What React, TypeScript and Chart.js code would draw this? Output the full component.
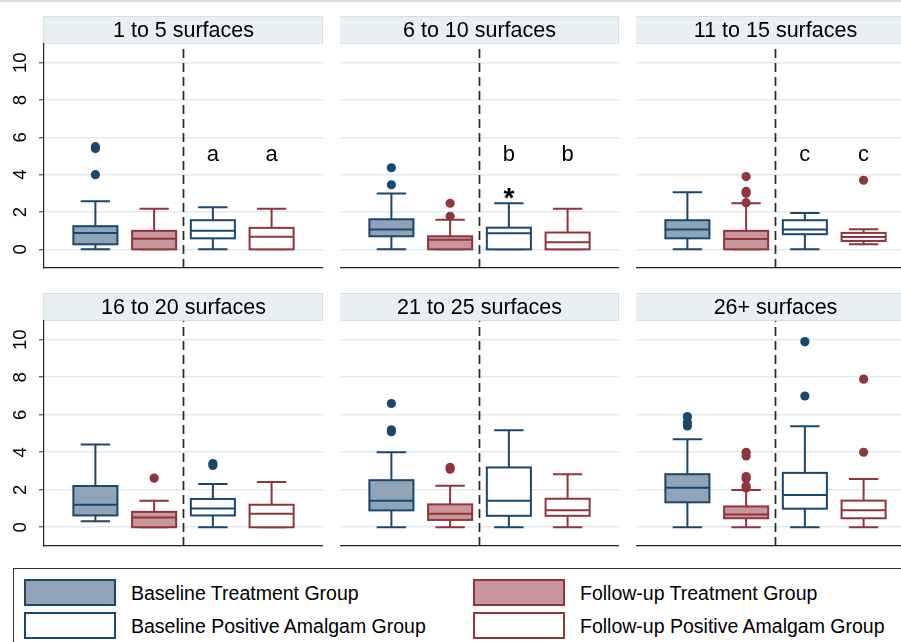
import React, { useEffect, useRef } from 'react';
import { Chart, registerables } from 'chart.js';

Chart.register(...registerables);

// ---------- data ----------
const panelTitles = [
  '1 to 5 surfaces',
  '6 to 10 surfaces',
  '11 to 15 surfaces',
  '16 to 20 surfaces',
  '21 to 25 surfaces',
  '26+ surfaces',
];

const groupLabels = [
  'Baseline Treatment Group',
  'Follow-up Treatment Group',
  'Baseline Positive Amalgam Group',
  'Follow-up Positive Amalgam Group',
];

const groupX = [1, 2, 3, 4];
const dividerX = 2.5;
const yTicks = [0, 2, 4, 6, 8, 10];

// per panel: [lower whisker, Q1, median, Q3, upper whisker]
const baselineTreatment = [
  [0, 0.27, 0.88, 1.24, 2.58],
  [0, 0.7, 1.06, 1.61, 2.99],
  [0, 0.59, 1.06, 1.56, 3.06],
  [0.32, 0.63, 1.2, 2.2, 4.41],
  [0, 0.9, 1.42, 2.51, 4.0],
  [0, 1.33, 2.11, 2.83, 4.7],
];
const followupTreatment = [
  [0, 0, 0.57, 0.99, 2.17],
  [0, 0, 0.52, 0.7, 1.58],
  [0, 0, 0.56, 0.99, 2.47],
  [0, 0, 0.52, 0.82, 1.42],
  [0, 0.39, 0.72, 1.22, 2.22],
  [0, 0.48, 0.68, 1.11, 1.99],
];
const baselineAmalgam = [
  [0, 0.59, 0.99, 1.56, 2.26],
  [0, 0, 0.86, 1.16, 2.47],
  [0, 0.81, 1.06, 1.56, 1.95],
  [0, 0.63, 1.0, 1.51, 2.31],
  [0, 0.61, 1.42, 3.19, 5.18],
  [0, 0.99, 1.72, 2.9, 5.39],
];
const followupAmalgam = [
  [0, 0, 0.68, 1.15, 2.17],
  [0, 0, 0.38, 0.9, 2.17],
  [0.27, 0.45, 0.66, 0.88, 1.08],
  [0, 0, 0.72, 1.2, 2.42],
  [0, 0.61, 0.91, 1.52, 2.83],
  [0, 0.48, 0.91, 1.42, 2.58],
];

// outliers per panel
const baselineTreatmentOut = [[4.0, 5.4, 5.5], [3.46, 4.37], [], [], [5.1, 5.2, 6.6], [5.4, 5.6, 5.9]];
const followupTreatmentOut = [[], [1.77, 2.47], [2.5, 3.0, 3.1, 3.9], [2.62], [3.1, 3.2], [2.1, 2.2, 2.6, 2.7, 3.8, 4.0]];
const baselineAmalgamOut = [[], [], [], [3.3, 3.4], [], [7.0, 9.9]];
const followupAmalgamOut = [[], [], [3.7], [], [], [4.0, 7.9]];

const significance = ['a', 'b', 'c', '', '', ''];
const significanceY = 4.75;
const asteriskPanel = ['', '*', '', '', '', ''];
const asteriskY = 2.25;

// ---------- styles ----------
const NAVY = '#1a476f';
const MAROON = '#90353b';
const NAVY_FILL = '#90a4b8';
const MAROON_FILL = '#c9979b';
const FONT = '"Liberation Sans", Arial, sans-serif';

const groupStats = [baselineTreatment, followupTreatment, baselineAmalgam, followupAmalgam];
const groupOut = [baselineTreatmentOut, followupTreatmentOut, baselineAmalgamOut, followupAmalgamOut];
const groupLine = [NAVY, MAROON, NAVY, MAROON];
const groupFill = [NAVY_FILL, MAROON_FILL, '#ffffff', '#ffffff'];

const colLeft = [44, 340, 636];
const rowTop = [16, 293];
const plotW = 279;
const headerH = 28;
const plotH = [224, 225];
const BOX_HALF = 0.375;
const CAP_HALF = 0.25;

function Panel({ index }: { index: number }) {
  const ref = useRef<HTMLCanvasElement | null>(null);
  const col = index % 3;
  const row = Math.floor(index / 3);
  const leftPad = col === 0 ? 44 : 0;
  const cw = leftPad + plotW;
  const ch = headerH + plotH[row] + 2;
  const left = col === 0 ? 0 : colLeft[col];
  const top = rowTop[row];

  useEffect(() => {
    if (!ref.current) return;

    const headerPlugin = {
      id: 'header',
      beforeDraw(chart: any) {
        const { ctx, chartArea } = chart;
        ctx.save();
        ctx.fillStyle = '#e8f0f3';
        ctx.strokeStyle = '#d3e0e5';
        ctx.lineWidth = 1;
        ctx.fillRect(chartArea.left - 1, 0, chartArea.right - chartArea.left + 1, headerH);
        ctx.strokeRect(chartArea.left - 0.5, 0.5, chartArea.right - chartArea.left, headerH - 1);
        ctx.fillStyle = '#000';
        ctx.font = `21.5px ${FONT}`;
        ctx.textAlign = 'center';
        ctx.textBaseline = 'middle';
        ctx.fillText(panelTitles[index], (chartArea.left + chartArea.right) / 2, headerH / 2 + 1);
        ctx.restore();
      },
    };

    const boxPlugin = {
      id: 'boxes',
      beforeDatasetsDraw(chart: any) {
        const { ctx } = chart;
        const x = chart.scales.x;
        const y = chart.scales.y;
        ctx.save();
        groupStats.forEach((stats, g) => {
          const [lo, q1, med, q3, hi] = stats[index];
          const xc = x.getPixelForValue(groupX[g]);
          const xl = x.getPixelForValue(groupX[g] - BOX_HALF);
          const xr = x.getPixelForValue(groupX[g] + BOX_HALF);
          const cl = x.getPixelForValue(groupX[g] - CAP_HALF);
          const cr = x.getPixelForValue(groupX[g] + CAP_HALF);
          const yLo = y.getPixelForValue(lo);
          const yQ1 = y.getPixelForValue(q1);
          const yMed = y.getPixelForValue(med);
          const yQ3 = y.getPixelForValue(q3);
          const yHi = y.getPixelForValue(hi);
          ctx.strokeStyle = groupLine[g];
          ctx.lineWidth = 2;
          ctx.beginPath();
          ctx.moveTo(xc, yHi);
          ctx.lineTo(xc, yQ3);
          ctx.moveTo(xc, yQ1);
          ctx.lineTo(xc, yLo);
          ctx.moveTo(cl, yHi);
          ctx.lineTo(cr, yHi);
          ctx.moveTo(cl, yLo);
          ctx.lineTo(cr, yLo);
          ctx.stroke();
          ctx.fillStyle = groupFill[g];
          ctx.fillRect(xl, yQ3, xr - xl, yQ1 - yQ3);
          ctx.strokeRect(xl, yQ3, xr - xl, yQ1 - yQ3);
          ctx.beginPath();
          ctx.moveTo(xl, yMed);
          ctx.lineTo(xr, yMed);
          ctx.stroke();
        });
        ctx.restore();
      },
      afterDatasetsDraw(chart: any) {
        const { ctx } = chart;
        const x = chart.scales.x;
        const y = chart.scales.y;
        ctx.save();
        ctx.fillStyle = '#000';
        ctx.textAlign = 'center';
        ctx.textBaseline = 'alphabetic';
        if (significance[index]) {
          ctx.font = `22px ${FONT}`;
          [groupX[2], groupX[3]].forEach((gx) => {
            ctx.fillText(significance[index], x.getPixelForValue(gx), y.getPixelForValue(significanceY));
          });
        }
        if (asteriskPanel[index]) {
          ctx.font = `bold 28px ${FONT}`;
          ctx.fillText(asteriskPanel[index], x.getPixelForValue(groupX[2]), y.getPixelForValue(asteriskY));
        }
        ctx.restore();
      },
    };

    const yLabelPlugin = {
      id: 'ylabels',
      afterDraw(chart: any) {
        if (col !== 0) return;
        const { ctx } = chart;
        const y = chart.scales.y;
        ctx.save();
        ctx.fillStyle = '#000';
        ctx.font = `18.5px ${FONT}`;
        ctx.textAlign = 'center';
        ctx.textBaseline = 'middle';
        yTicks.forEach((v) => {
          ctx.save();
          ctx.translate(21, y.getPixelForValue(v));
          ctx.rotate(-Math.PI / 2);
          ctx.fillText(String(v), 0, 0);
          ctx.restore();
        });
        ctx.restore();
      },
    };

    const datasets: any[] = [
      {
        type: 'line',
        data: [
          { x: dividerX, y: -1 },
          { x: dividerX, y: 11 },
        ],
        borderColor: '#262626',
        borderWidth: 1.7,
        borderDash: [9, 5],
        pointRadius: 0,
        fill: false,
        order: 5,
      },
    ];
    groupOut.forEach((outs, g) => {
      datasets.push({
        type: 'scatter',
        label: groupLabels[g],
        data: outs[index].map((v) => ({ x: groupX[g], y: v })),
        backgroundColor: groupLine[g],
        borderColor: groupLine[g],
        borderWidth: 0,
        pointRadius: 4.6,
        order: 1,
      });
    });

    const chart = new Chart(ref.current, {
      type: 'scatter',
      data: { datasets },
      options: {
        animation: false,
        responsive: false,
        devicePixelRatio: 1,
        layout: { autoPadding: false, padding: { top: headerH, bottom: 2, left: 0, right: 0 } },
        plugins: { legend: { display: false }, tooltip: { enabled: false }, title: { display: false } },
        scales: {
          x: {
            type: 'linear',
            min: 0.125,
            max: 4.875,
            grid: { display: false, drawTicks: false },
            ticks: { display: false },
            border: { display: true, color: '#222', width: 1.2 },
            afterFit: (s: any) => {
              s.height = 0;
            },
          },
          y: {
            type: 'linear',
            min: -1,
            max: 11,
            afterBuildTicks: (s: any) => {
              s.ticks = yTicks.map((v) => ({ value: v }));
            },
            ticks: { display: false },
            grid: {
              color: '#e2eaee',
              lineWidth: 1.6,
              drawTicks: col === 0,
              tickLength: 5,
              tickColor: '#333',
              tickWidth: 1,
            },
            border: { display: col === 0, color: '#222', width: 1.2 },
            afterFit: (s: any) => {
              s.width = leftPad;
            },
          },
        },
      },
      plugins: [headerPlugin, boxPlugin, yLabelPlugin],
    });
    return () => chart.destroy();
  }, [index]);

  return (
    <canvas
      ref={ref}
      width={cw}
      height={ch}
      style={{ position: 'absolute', left, top, width: cw, height: ch }}
    />
  );
}

const legendItems = [
  { label: groupLabels[0], line: NAVY, fill: NAVY_FILL, x: 24, y: 579 },
  { label: groupLabels[1], line: MAROON, fill: MAROON_FILL, x: 473, y: 579 },
  { label: groupLabels[2], line: NAVY, fill: '#ffffff', x: 24, y: 612 },
  { label: groupLabels[3], line: MAROON, fill: '#ffffff', x: 473, y: 612 },
];

export default function App() {
  return (
    <div
      style={{
        position: 'absolute',
        left: 0,
        top: 0,
        width: 901,
        height: 642,
        overflow: 'hidden',
        background: '#fff',
        fontFamily: FONT,
      }}
    >
      <div style={{ position: 'absolute', left: 0, top: 0, width: 901, height: 2, background: '#dedede' }} />
      {panelTitles.map((_, i) => (
        <Panel key={i} index={i} />
      ))}
      <div
        style={{
          position: 'absolute',
          left: 13,
          top: 568,
          width: 920,
          height: 120,
          border: '1px solid #333',
          boxSizing: 'border-box',
        }}
      />
      {legendItems.map((it, i) => (
        <React.Fragment key={i}>
          <div
            style={{
              position: 'absolute',
              left: it.x,
              top: it.y,
              width: 92,
              height: 27,
              border: `2px solid ${it.line}`,
              background: it.fill,
              boxSizing: 'border-box',
            }}
          />
          <div
            style={{
              position: 'absolute',
              left: it.x + 107,
              top: it.y + 1,
              height: 27,
              lineHeight: '27px',
              fontSize: 19.5,
              color: '#000',
              whiteSpace: 'nowrap',
            }}
          >
            {it.label}
          </div>
        </React.Fragment>
      ))}
    </div>
  );
}
